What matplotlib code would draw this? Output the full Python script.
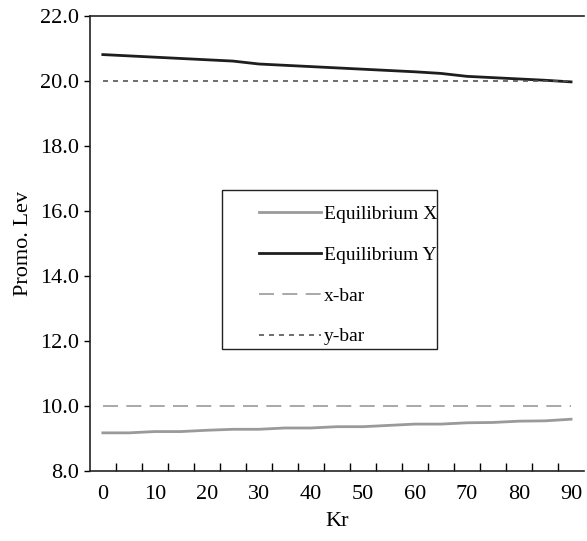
import matplotlib
matplotlib.use("Agg")
import numpy as np
import matplotlib.pyplot as plt
from matplotlib.patches import Rectangle

plt.rcParams['font.family'] = ['Liberation Serif', 'DejaVu Serif']

kr = [0, 5, 10, 15, 20, 25, 30, 35, 40, 45, 50, 55, 60, 65, 70, 75, 80, 85, 90]
eq_x = [9.18, 9.18, 9.22, 9.22, 9.26, 9.29, 9.29, 9.33, 9.33, 9.37,
        9.37, 9.41, 9.45, 9.45, 9.49, 9.50, 9.54, 9.55, 9.60]
eq_y = [20.82, 20.78, 20.74, 20.70, 20.66, 20.62, 20.53, 20.49, 20.45, 20.41,
        20.37, 20.33, 20.29, 20.24, 20.15, 20.11, 20.07, 20.03, 19.98]
x_bar = 10.0
y_bar = 20.0
xtick_labels = ['0', '10', '20', '30', '40', '50', '60', '70', '80', '90']
yticks = [8, 10, 12, 14, 16, 18, 20, 22]

fig = plt.figure(figsize=(5.87, 5.41), dpi=100)
ax = fig.add_axes([0.153, 0.129, 0.842, 0.841])

ax.plot(kr, eq_x, color='#9a9a9a', lw=2.0, label='Equilibrium X')
ax.plot(kr, eq_y, color='#1e1e1e', lw=2.0, label='Equilibrium Y')
ax.plot(kr, [x_bar] * len(kr), color='#999999', lw=1.2, dashes=(9, 5), label='x-bar')
ax.plot(kr, [y_bar] * len(kr), color='#555555', lw=1.2, dashes=(3, 3), label='y-bar')

ax.set_xlim(-2.5, 92.5)
ax.set_ylim(8, 22)

# labels on categories, tick marks between them
ax.set_xticks([int(v) for v in xtick_labels])
ax.set_xticklabels(xtick_labels)
ax.set_xticks(np.arange(2.5, 90, 5), minor=True)
ax.tick_params(axis='x', which='major', length=0, pad=10, labelsize=16)
ax.tick_params(axis='x', which='minor', length=6, direction='in', width=1)
ax.set_yticks(yticks)
ax.set_yticklabels(['%.1f' % v for v in yticks])
ax.tick_params(axis='y', length=4, direction='out', labelsize=16, width=1)

ax.spines['right'].set_visible(False)
for s in ['left', 'bottom', 'top']:
    ax.spines[s].set_linewidth(1.2)
    ax.spines[s].set_color('#222222')

ax.set_xlabel('Kr', fontsize=16, labelpad=6)
ax.set_ylabel('Promo. Lev', fontsize=16, labelpad=5)

# legend box drawn separately
ax.add_patch(Rectangle((0.267, 0.268), 0.435, 0.350, transform=ax.transAxes,
                       fill=True, facecolor='white', edgecolor='#222222',
                       lw=1.0, zorder=4))
leg = ax.legend(loc='upper left', bbox_to_anchor=(0.342, 0.585), fontsize=14,
                handlelength=3.2, handletextpad=0.15, labelspacing=1.2,
                borderpad=0, frameon=False, borderaxespad=0)
leg.set_zorder(5)

fig.savefig('out.png', dpi=100)
